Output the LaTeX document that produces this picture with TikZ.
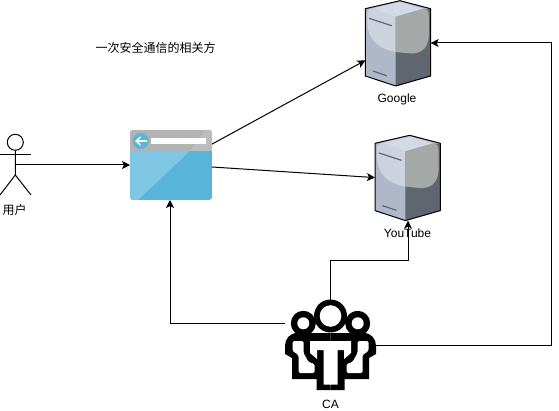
\documentclass[tikz,border=0pt]{standalone}
\usepackage{fontspec}
\setmainfont{Liberation Sans}
\newfontfamily\cjk{Noto Sans CJK SC}
\usetikzlibrary{arrows.meta,calc}
\definecolor{srvtop}{HTML}{D3D9E5}
\definecolor{srvleft}{HTML}{CCD3DE}
\definecolor{srvlow}{HTML}{AEB8C8}
\definecolor{srvright}{HTML}{A4A9A8}
\definecolor{srvdark}{HTML}{5F666F}
\definecolor{brgrey}{HTML}{B3B3B3}
\definecolor{brgreyl}{HTML}{BDBDBD}
\definecolor{brblue}{HTML}{59B4D9}
\definecolor{brlight}{HTML}{7FC6E4}
\tikzset{
  anchorbox/.style={inner sep=0pt,outer sep=0pt,rectangle},
  lbl/.style={inner sep=0pt,font=\fontsize{12}{14}\selectfont},
  conn/.style={draw=black,line width=1pt,-{Stealth[length=8pt,width=8pt,inset=2pt]}},
  stick/.style={draw=black,line width=1pt},
  server/.pic={
    \fill[srvlow] (0,8.7) -- (34.7,0.7) -- (65.3,8.7) -- (65.3,76) -- (30.4,86) -- (0,76) -- cycle;
    \fill[srvdark] (30.4,16) -- (65.3,8.7) -- (65.3,76) -- (30.4,86) -- cycle;
    \fill[srvleft] (2,14) .. controls (2,10) and (5,9) .. (8,8) -- (30.4,15) -- (30.4,52) .. controls (12,49) and (2,38) .. (2,22) -- cycle;
    \fill[srvright] (30.4,16) -- (58,8.5) .. controls (62,9.5) and (63.5,11) .. (63.5,15) -- (63.5,36) .. controls (63,48) and (56,53.5) .. (46,53.5) -- (30.4,52) -- cycle;
    \fill[srvtop] (8,8) -- (34.7,2) -- (58,8.5) -- (30.4,16.5) -- cycle;
    \draw[srvdark,line width=1.2pt] (3.7,18.3) -- (26.4,25.7);
    \draw[srvdark,line width=1.2pt] (7.4,71) -- (21.4,75.7);
    \draw[black,line width=1pt,line join=round] (0,8.7) -- (34.7,0.7) -- (65.3,8.7) -- (65.3,76) -- (30.4,86) -- (0,76) -- cycle;
  }
}
\begin{document}
\begin{tikzpicture}[x=1pt,y=-1pt]
\useasboundingbox (0,0) rectangle (559,411);
\fill[white] (0,0) rectangle (559,411);

% title
\node[lbl] (title) at (155.5,47.5) {\cjk 一次安全通信的相关方};

% user
\node[anchorbox,minimum width=31pt,minimum height=62pt] (user) at (15.5,164) {};
\node[draw=black,line width=1pt,circle,minimum size=16pt,inner sep=0pt] (head) at (15.3,142.3) {};
\draw[stick] (head.south) -- (15.3,175) -- (0,195);
\draw[stick] (15.3,175) -- (31,195);
\draw[stick] (0,154.3) -- (31,154.3);
\node[lbl] (userlbl) at (14.5,209.5) {\cjk 用户};

% browser
\begin{scope}
  \path[clip,rounded corners=3pt] (130,130) rectangle (212,200);
  \fill[brblue] (130,130) rectangle (212,200);
  \fill[brgrey] (130,130) rectangle (212,151);
  \fill[brgreyl] (212,130) -- (212,151) -- (190,151) -- (205,130) -- cycle;
  \fill[brlight] (130,151) -- (190,151) -- (138,200) -- (130,200) -- cycle;
\end{scope}
\fill[brblue] (140.7,141) circle (8pt);
\draw[white,line width=1.4pt] (147,141) -- (136,141);
\draw[white,line width=1.4pt] (140.5,137) -- (136,141) -- (140.5,145);
\fill[white] (151,138) rectangle (206,144.5);
\node[anchorbox,minimum width=82pt,minimum height=70pt] (browser) at (171,165) {};

% servers
\pic at (365.3,0) {server};
\node[anchorbox,minimum width=65.3pt,minimum height=86pt] (google) at (398,43) {};
\node[lbl] (googlelbl) at (397,99.5) {Google};
\pic at (375,134.6) {server};
\node[anchorbox,minimum width=65.3pt,minimum height=86pt] (youtube) at (407.6,177.6) {};
\node[lbl] (youtubelbl) at (407.5,233.5) {YouTube};

% CA icon
\fill[black] (330.5,316) circle (16.5pt);
\fill[black] (303.3,323.3) circle (12.5pt);
\fill[black] (357.7,323.3) circle (12.5pt);
\fill[white] (303.3,323.3) circle (6pt);
\fill[white] (357.7,323.3) circle (6pt);
\fill[white] (330.5,316) circle (10.8pt);
\foreach \s in {1,-1}{
\begin{scope}[shift={(330.5,0)},xscale=\s]
  \fill[black] (0,333) -- (-33,333) .. controls (-41,333) and (-45.5,339) .. (-45.5,346) -- (-45.5,354) -- (-38.5,358) -- (-38.5,379) -- (-14,379) -- (-14,390) -- (0,390) -- cycle;
\end{scope}}
\foreach \s in {1,-1}{
\begin{scope}[shift={(330.5,0)},xscale=\s]
  \fill[white,rounded corners=1.5pt] (-38,341) -- (-27,341) -- (-27,353) -- (-22,362) -- (-16,364) -- (-16,373) -- (-32,373) -- (-32,355) -- (-38,351) -- cycle;
  \fill[white] (-20.5,341) -- (0.5,341) -- (0.5,384.5) -- (-7,384.5) -- (-7,350) -- (-13.5,350) -- (-13.5,359) -- (-20.5,353) -- cycle;
\end{scope}}
\node[anchorbox,minimum width=90pt,minimum height=90pt] (ca) at (330.5,344) {};
\node[lbl] (calbl) at (330.5,404) {CA};

% connectors
\draw[conn] (user.east |- browser.west) ++(-16,0) -- (browser.west);
\draw[conn] (browser.27) -- (google.208.6);
\draw[conn] (browser.east) ++(0,2) -- (youtube.west);
\draw[conn] (ca.west |- 0,323) ++(-1,0) -| ($(browser.south)+(-1,0)$);
\coordinate (caup) at (330,300);
\draw[conn] (caup) |- (408,261) -- (youtube.south -| 408,0);
\coordinate (caright) at (375,345);
\draw[conn] (caright) -- (551,345) |- (google.east);
\end{tikzpicture}
\end{document}
